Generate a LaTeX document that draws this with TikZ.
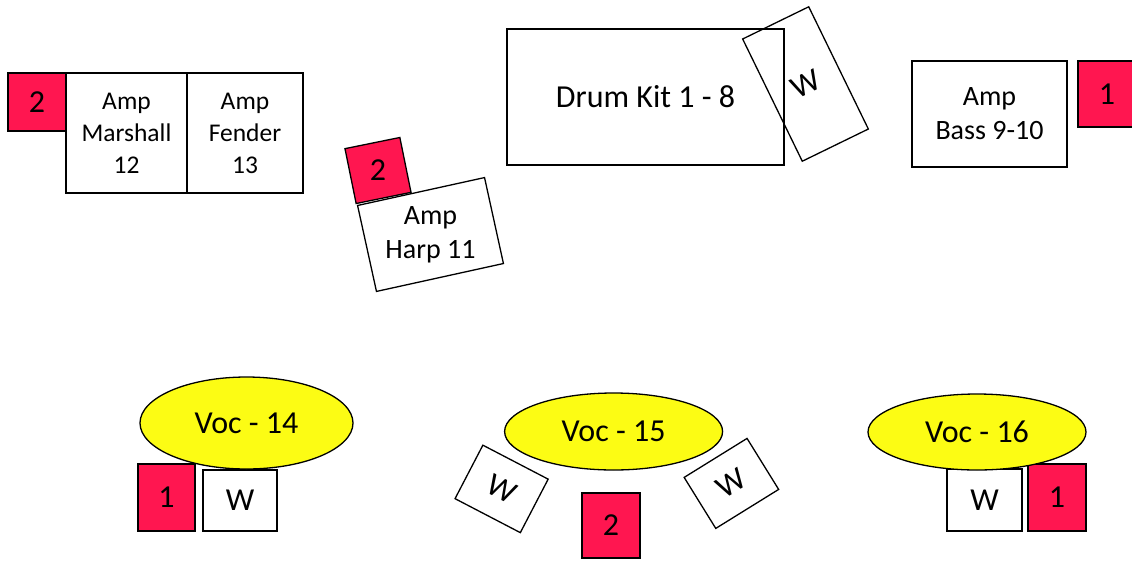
\documentclass[tikz,border=0pt]{standalone}
\usepackage{fontspec}
\setmainfont{Carlito}
\usetikzlibrary{shapes.geometric}
\definecolor{mred}{RGB}{255,22,80}
\definecolor{myel}{RGB}{252,252,20}
\begin{document}
\begin{tikzpicture}[x=1pt,y=-1pt,
  box/.style={draw=black,line width=1.3pt,inner sep=0pt,rectangle,align=center},
  redbox/.style={box,fill=mred},
  wbox/.style={box,fill=white},
  plain/.style={inner sep=0pt,align=center},
  voc/.style={draw=black,line width=1.3pt,fill=myel,ellipse,inner sep=0pt},
  bigtxt/.style={font=\fontsize{32}{38}\selectfont},
  amptxt/.style={font=\fontsize{25.5}{32}\selectfont},
  amptxtb/.style={font=\fontsize{28}{34}\selectfont}]
\useasboundingbox (0,0) rectangle (1132,563);
% top left
\node[redbox,bigtxt,minimum width=58pt,minimum height=58pt] (r2a) at (37,102) {2};
\node[box,amptxt,minimum width=121pt,minimum height=120pt] (marshall) at (126.5,133) {Amp\\Marshall\\12};
\node[box,amptxt,minimum width=116pt,minimum height=120pt] (fender) at (245,133) {Amp\\Fender\\13};
% harp
\node[wbox,minimum width=130pt,minimum height=88pt,rotate=12.4] (harp) at (430.5,234.5) {};
\node[plain,amptxtb] (harptxt) at (harp.center) {Amp\\Harp 11};
\node[redbox,minimum width=56pt,minimum height=56pt,rotate=11.5] (r2b) at (378,170.5) {};
\node[plain,bigtxt] (r2btxt) at (r2b.center) {2};
% drum
\node[box,bigtxt,minimum width=277pt,minimum height=136pt] (drum) at (645.5,97) {Drum Kit 1 - 8};
\node[box,bigtxt,minimum width=73.5pt,minimum height=136pt,rotate=26] (wdrum) at (805.5,84) {W};
% bass
\node[box,amptxtb,minimum width=155pt,minimum height=106pt] (bass) at (989.5,114) {Amp\\Bass 9-10};
\node[redbox,bigtxt,minimum width=58pt,minimum height=66pt] (r1a) at (1107,94) {1};
% voc 14
\node[wbox,bigtxt,minimum width=74pt,minimum height=61pt] (w14) at (240,500.5) {W};
\node[redbox,bigtxt,minimum width=57pt,minimum height=67pt] (r14) at (166.5,497.5) {1};
\node[voc,bigtxt,minimum width=213pt,minimum height=92pt] (voc14) at (246.5,423) {Voc - 14};
% voc 15
\node[voc,bigtxt,minimum width=218pt,minimum height=77pt] (voc15) at (613.6,431.5) {Voc - 15};
\node[wbox,bigtxt,minimum width=73.6pt,minimum height=60.3pt,rotate=-27.5] (w15a) at (501.6,488.9) {W};
\node[wbox,bigtxt,minimum width=74pt,minimum height=60pt,rotate=31.8] (w15b) at (731.4,483.4) {W};
\node[redbox,bigtxt,minimum width=58pt,minimum height=65pt] (r15) at (611,525.5) {2};
% voc 16
\node[wbox,bigtxt,minimum width=75pt,minimum height=62pt] (w16) at (984.5,500) {W};
\node[redbox,bigtxt,minimum width=58pt,minimum height=67pt] (r16) at (1057,497.5) {1};
\node[voc,bigtxt,minimum width=218pt,minimum height=76pt] (voc16) at (977,432) {Voc - 16};
\end{tikzpicture}
\end{document}
